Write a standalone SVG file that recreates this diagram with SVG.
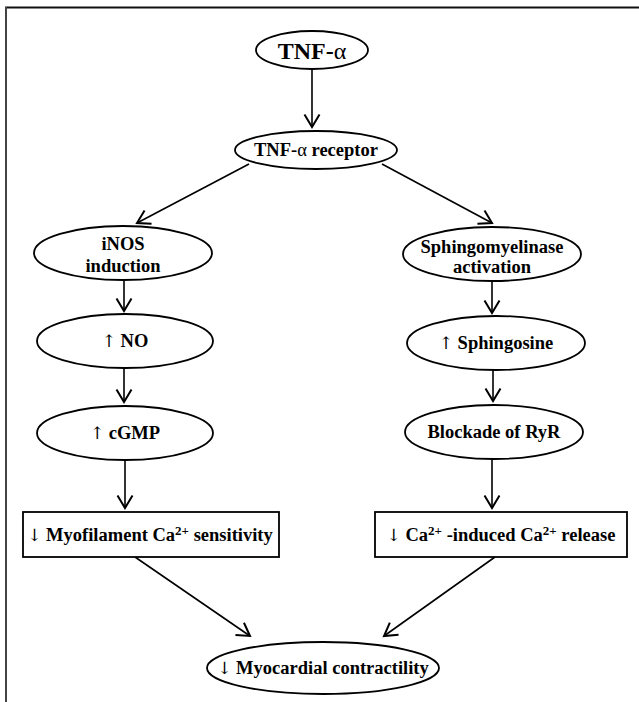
<svg xmlns="http://www.w3.org/2000/svg" width="639" height="702" viewBox="0 0 639 702">
<style>
.n{fill:#fff;stroke:#000;stroke-width:1.8}
.t{font-family:"Liberation Serif","Times New Roman",serif;font-weight:bold;font-size:18.5px;fill:#000;text-anchor:middle}
.r{font-weight:normal}
.ar{font-family:"DejaVu Serif","DejaVu Sans",serif;font-weight:normal;font-size:17px;fill:#000}
.s{font-size:13px}
.c{stroke:#000;stroke-width:1.6;fill:none;marker-end:url(#a)}
</style>
<defs>
<marker id="a" markerUnits="userSpaceOnUse" markerWidth="20" markerHeight="20" viewBox="-12 -8 14 16" refX="0" refY="0" orient="auto">
<path d="M-10,-6 L0,0 L-10,6" fill="none" stroke="#000" stroke-width="1.6"/>
</marker>
</defs>
<rect width="639" height="702" fill="#fff"/>
<g id="frame">
<line x1="5" y1="7.5" x2="639" y2="7.5" stroke="#111" stroke-width="1.8"/>
<line x1="6" y1="7" x2="6" y2="702" stroke="#444" stroke-width="2"/>
</g>
<g id="connectors">
<line class="c" x1="312" y1="70" x2="312" y2="127"/>
<line class="c" x1="249" y1="164" x2="137" y2="223"/>
<line class="c" x1="382" y1="164" x2="492" y2="223"/>
<line class="c" x1="124" y1="281" x2="124" y2="311"/>
<line class="c" x1="124" y1="368" x2="124" y2="402"/>
<line class="c" x1="125" y1="460" x2="125" y2="508"/>
<line class="c" x1="492" y1="282" x2="492" y2="313"/>
<line class="c" x1="493" y1="370" x2="493" y2="401"/>
<line class="c" x1="492" y1="459" x2="492" y2="508"/>
<line class="c" x1="135" y1="557" x2="250" y2="636"/>
<line class="c" x1="495" y1="557" x2="384" y2="636"/>
</g>
<g id="tnf">
<ellipse class="n" cx="312" cy="50" rx="56" ry="19"/>
<text class="t" x="312" y="59" style="font-size:24px">TNF-<tspan class="r">α</tspan></text>
</g>
<g id="receptor">
<ellipse class="n" cx="316" cy="150" rx="81" ry="19"/>
<text class="t" x="316" y="156">TNF-<tspan class="r">α</tspan> receptor</text>
</g>
<g id="inos">
<ellipse class="n" cx="123" cy="253" rx="89" ry="27"/>
<text class="t" x="123" y="250">iNOS</text>
<text class="t" x="123" y="272">induction</text>
</g>
<g id="no">
<ellipse class="n" cx="125" cy="341" rx="88" ry="27"/>
<text class="t" x="125" y="347"><tspan class="ar">↑</tspan> NO</text>
</g>
<g id="cgmp">
<ellipse class="n" cx="125" cy="433" rx="88" ry="27"/>
<text class="t" x="125" y="439"><tspan class="ar">↑</tspan> cGMP</text>
</g>
<g id="myofilament">
<rect class="n" x="23" y="512" width="256" height="45"/>
<text class="t" x="150" y="541"><tspan class="ar">↓</tspan> Myofilament Ca<tspan class="s" dy="-6">2+</tspan><tspan dy="6"> sensitivity</tspan></text>
</g>
<g id="sphingomyelinase">
<ellipse class="n" cx="492" cy="254" rx="89" ry="27"/>
<text class="t" x="492" y="253">Sphingomyelinase</text>
<text class="t" x="492" y="273">activation</text>
</g>
<g id="sphingosine">
<ellipse class="n" cx="496" cy="343" rx="89" ry="27"/>
<text class="t" x="496" y="349"><tspan class="ar">↑</tspan> Sphingosine</text>
</g>
<g id="ryr">
<ellipse class="n" cx="494" cy="432" rx="89" ry="27"/>
<text class="t" x="494" y="438">Blockade of RyR</text>
</g>
<g id="cicr">
<rect class="n" x="375" y="512" width="252" height="45"/>
<text class="t" x="501" y="541"><tspan class="ar">↓</tspan> Ca<tspan class="s" dy="-6">2+</tspan><tspan dy="6"> -induced Ca</tspan><tspan class="s" dy="-6">2+</tspan><tspan dy="6"> release</tspan></text>
</g>
<g id="contractility">
<ellipse class="n" cx="323" cy="668" rx="116" ry="26"/>
<text class="t" x="323" y="674"><tspan class="ar">↓</tspan> Myocardial contractility</text>
</g>
</svg>
